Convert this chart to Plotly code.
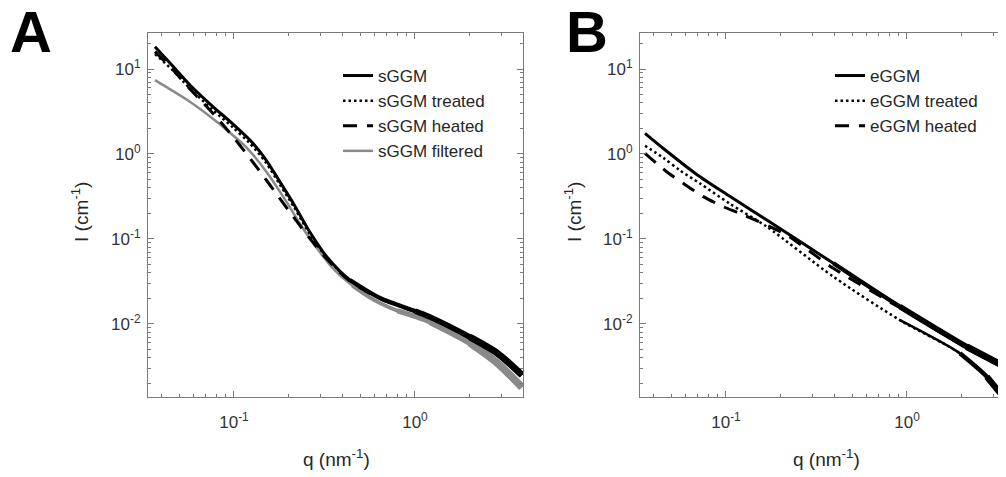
import plotly.graph_objects as go

# ---- panel A : sGGM samples (q in nm^-1, I in cm^-1)
q_a = [0.0366, 0.0460, 0.0571, 0.0756, 0.0987, 0.1225, 0.1483, 0.1795, 0.217,
       0.263, 0.3265, 0.437, 0.641, 1.0, 1.21, 2.01, 2.84, 3.90]
i_sggm = [18.3, 10.8, 6.48, 3.69, 2.25, 1.46, 0.889, 0.47, 0.245,
          0.120, 0.0614, 0.0329, 0.0202, 0.0142, 0.0121, 0.00703, 0.00456, 0.00251]
i_sggm_treated = [15.0, 9.6, 5.9, 3.36, 2.05, 1.33, 0.82, 0.435, 0.228,
                  0.113, 0.060, 0.0325, 0.0200, 0.0141, 0.0120, 0.0070, 0.0045, 0.00245]

q_a_heated = [0.0366, 0.0460, 0.0571, 0.0649, 0.0802, 0.0987, 0.1175, 0.142, 0.168,
              0.200, 0.263, 0.3265, 0.437, 0.641, 1.0, 1.21, 2.01, 2.84, 3.90]
i_sggm_heated = [16.0, 9.8, 5.8, 4.38, 2.69, 1.60, 1.00, 0.588, 0.361,
                 0.218, 0.101, 0.058, 0.0320, 0.0198, 0.0140, 0.0120, 0.0069, 0.0044, 0.0024]

q_a_filtered = [0.0366, 0.0571, 0.0756, 0.095, 0.117, 0.151, 0.196, 0.232, 0.28,
                0.352, 0.45, 0.586, 0.80, 1.21, 2.01, 2.84, 3.90]
i_sggm_filtered = [7.4, 4.12, 2.65, 1.78, 1.20, 0.62, 0.27, 0.150, 0.0837,
                   0.0451, 0.0283, 0.0195, 0.0143, 0.0106, 0.0060, 0.0035, 0.0018]

# ---- panel B : eGGM samples
q_b = [0.0357, 0.0451, 0.0689, 0.105, 0.168, 0.392, 0.914, 2.14, 3.48, 3.9]
i_eggm = [1.75, 1.16, 0.575, 0.318, 0.167, 0.0518, 0.0160, 0.0054, 0.00315, 0.0028]

q_b_treated = [0.0357, 0.0451, 0.0557, 0.0718, 0.105, 0.168, 0.392, 0.914, 1.96, 2.76, 3.39, 3.9]
i_eggm_treated = [1.25, 0.90, 0.64, 0.45, 0.26, 0.1395, 0.036, 0.0111, 0.00452, 0.0024, 0.0014, 0.00095]

q_b_heated = [0.0357, 0.047, 0.058, 0.075, 0.0966, 0.125, 0.216, 0.392, 0.914, 2.14, 3.48, 3.9]
i_eggm_heated = [1.02, 0.619, 0.452, 0.315, 0.24, 0.1915, 0.1114, 0.0452, 0.0155, 0.0052, 0.0030, 0.0027]

legend_a = ['sGGM', 'sGGM treated', 'sGGM heated', 'sGGM filtered']
legend_b = ['eGGM', 'eGGM treated', 'eGGM heated']
tick_vals_x = [0.1, 1]
tick_text_x = ['10<sup>-1</sup>', '10<sup>0</sup>']
tick_vals_y = [0.01, 0.1, 1, 10]
tick_text_y = ['10<sup>-2</sup>', '10<sup>-1</sup>', '10<sup>0</sup>', '10<sup>1</sup>']

FONT = 'Liberation Sans, Arial, sans-serif'
BLACK, GRAY = '#000000', '#8a8a8a'
DOT, DASH = '2.5px,3px', '14px,10px'
AXC = '#7a7a7a'

# the page body has an 8px margin, so positions below are page pixels minus 8
W, H, OFF = 998, 469, 8


def px(x):
    return (x - OFF) / W


def py(y):
    return 1 - (y - OFF) / H


fig = go.Figure()


def add_series(q, y, name, rank, col, dash, w, xa, ya, leg, noisy=()):
    line = dict(color=col, dash=dash, width=w, shape='spline', smoothing=0.8)
    fig.add_trace(go.Scatter(x=q, y=y, mode='lines', name=name, line=line, legendrank=rank,
                             xaxis=xa, yaxis=ya, legend=leg))
    # high-q data are noisy in the original: drawn as a band that widens with q
    for q0, bw in noisy:
        n = sum(1 for v in q if v < q0)
        fig.add_trace(go.Scatter(x=q[n:], y=y[n:], mode='lines', showlegend=False, hoverinfo='skip',
                                 line=dict(color=col, width=bw, shape='spline', smoothing=0.8),
                                 xaxis=xa, yaxis=ya))


add_series(q_a_filtered, i_sggm_filtered, legend_a[3], 4, GRAY, 'solid', 2.5, 'x', 'y', 'legend',
           [(0.45, 3.8), (0.8, 5.1), (1.2, 6.4), (2.0, 7.7)])
add_series(q_a, i_sggm, legend_a[0], 1, BLACK, 'solid', 3, 'x', 'y', 'legend',
           [(0.437, 4.3), (1.0, 5.6), (2.0, 6.9)])
add_series(q_a, i_sggm_treated, legend_a[1], 2, BLACK, DOT, 2.5, 'x', 'y', 'legend')
add_series(q_a_heated, i_sggm_heated, legend_a[2], 3, BLACK, DASH, 3, 'x', 'y', 'legend')

add_series(q_b, i_eggm, legend_b[0], 1, BLACK, 'solid', 3, 'x2', 'y2', 'legend2',
           [(0.392, 4.3), (0.914, 5.6), (2.14, 6.9)])
add_series(q_b_treated, i_eggm_treated, legend_b[1], 2, BLACK, DOT, 2.5, 'x2', 'y2', 'legend2',
           [(0.914, 2.4), (1.96, 4.4), (2.76, 6.2)])
add_series(q_b_heated, i_eggm_heated, legend_b[2], 3, BLACK, DASH, 3, 'x2', 'y2', 'legend2')


def log_axis(**kw):
    d = dict(type='log', showgrid=False, zeroline=False,
             showline=True, linecolor=AXC, linewidth=1, mirror='ticks',
             ticks='inside', ticklen=6, tickcolor=AXC,
             tickfont=dict(family=FONT, size=17, color='#333333'),
             minor=dict(ticks='inside', ticklen=3, tickcolor=AXC, dtick='D1', showgrid=False))
    d.update(kw)
    return d


y_dom = [py(397), py(33)]
y_rng = [-2.859, 1.4235]

legend_style = dict(font=dict(family=FONT, size=17, color='#262626'), bgcolor='rgba(0,0,0,0)',
                    traceorder='grouped', tracegroupgap=0, xanchor='left', yanchor='top',
                    itemwidth=30)

fig.update_layout(
    width=W, height=H, autosize=False,
    margin=dict(l=0, r=0, t=0, b=0),
    paper_bgcolor='white', plot_bgcolor='white',
    font=dict(family=FONT, color='#262626'),
    xaxis=log_axis(domain=[px(148), px(523)], range=[-1.475, 0.597], anchor='y',
                   tickvals=tick_vals_x, ticktext=tick_text_x, ticklabelstandoff=10),
    yaxis=log_axis(domain=y_dom, range=y_rng, anchor='x',
                   tickvals=tick_vals_y, ticktext=tick_text_y, ticklabelstandoff=3),
    xaxis2=log_axis(domain=[px(640), 1.0], range=[-1.475, 0.547], anchor='y2',
                    tickvals=tick_vals_x, ticktext=tick_text_x, ticklabelstandoff=10),
    yaxis2=log_axis(domain=y_dom, range=y_rng, anchor='x2',
                    tickvals=tick_vals_y, ticktext=tick_text_y, ticklabelstandoff=3),
    legend=dict(x=px(338), y=py(58), **legend_style),
    legend2=dict(x=px(830), y=py(58), **legend_style),
)

title_font = dict(family=FONT, size=19, color='#262626')
notes = [
    dict(text='q (nm<sup>-1</sup>)', x=px(336), y=py(458)),
    dict(text='q (nm<sup>-1</sup>)', x=px(826), y=py(458)),
    dict(text='I (cm<sup>-1</sup>)', x=px(80), y=py(212), textangle=-90),
    dict(text='I (cm<sup>-1</sup>)', x=px(573), y=py(212), textangle=-90),
]
for n in notes:
    fig.add_annotation(xref='paper', yref='paper', showarrow=False,
                       xanchor='center', yanchor='middle', font=title_font, **n)

for txt, xc in [('A', 31), ('B', 587)]:
    fig.add_annotation(text='<b>%s</b>' % txt, xref='paper', yref='paper', x=px(xc), y=1.0,
                       showarrow=False, xanchor='center', yanchor='top', yshift=11,
                       font=dict(family=FONT, size=58, color='#000000'))

fig.write_html("out.html")
